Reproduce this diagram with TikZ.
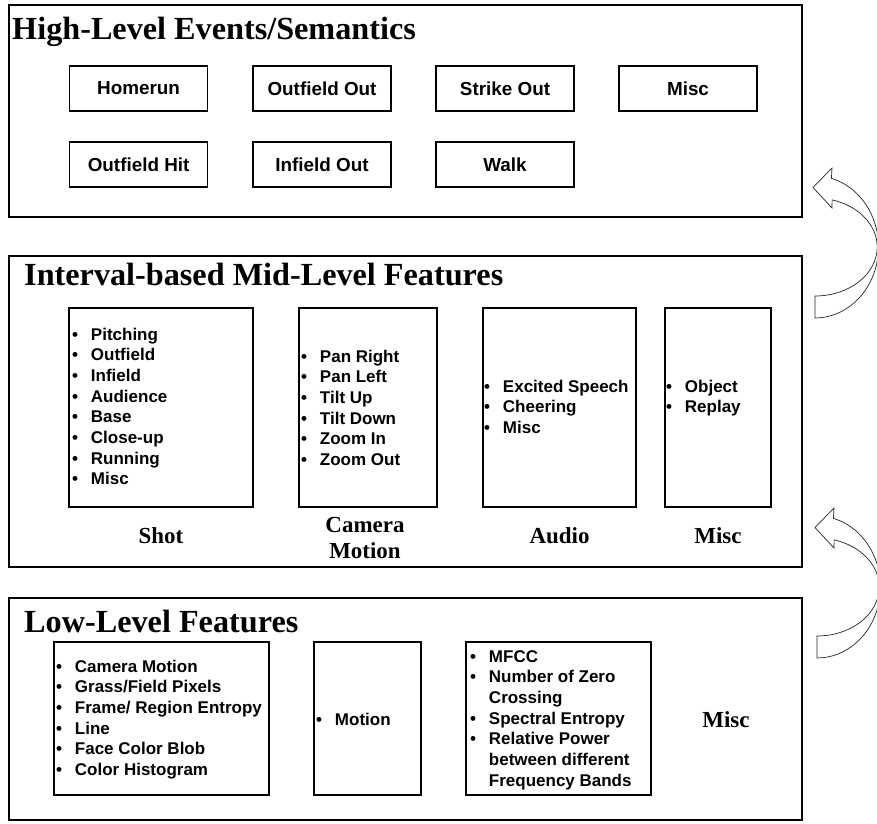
\documentclass[tikz,border=0pt]{standalone}
\usepackage{fontspec}
\setmainfont{Liberation Serif}
\setsansfont{Liberation Sans}
\newcommand{\bitem}[1]{\makebox[16pt][l]{\textbullet}#1}
\newcommand{\bcont}[1]{\hspace*{16pt}#1}
\tikzset{
  layerbox/.style={draw,line width=1.5pt},
  featbox/.style={draw,line width=1.5pt},
  evbox/.style={draw,line width=1.5pt,inner sep=0,minimum width=4.14cm,minimum height=1.35cm,
    font=\fontsize{16.1}{19}\selectfont\sffamily\bfseries},
  layertitle/.style={anchor=base west,inner sep=0,font=\fontsize{27.5}{33}\selectfont\bfseries},
  featlabel/.style={inner sep=0,align=center,font=\fontsize{19.6}{22.2}\selectfont\bfseries},
  featlist/.style={anchor=base west,inner sep=0,font=\fontsize{14.5}{17.67}\selectfont\sffamily\bfseries},
  bendarrow/.style={draw=black!85,line width=0.6pt,fill=white,line join=miter}
}
\begin{document}
\begin{tikzpicture}[x=0.03cm,y=-0.03cm]
\useasboundingbox (0,0) rectangle (877,824);
% three layers
\draw[layerbox] (9,5) rectangle (802,217); \draw[layerbox] (9,256) rectangle (802,567); \draw[layerbox] (9,598) rectangle (802,820);
\node[layertitle] (hightitle) at (12,40) {High-Level Events/Semantics};
\node[layertitle] (midtitle) at (24,286) {Interval-based Mid-Level Features};
\node[layertitle] (lowtitle) at (24,632) {Low-Level Features};
% high level events
\node[evbox] (homerun) at (138.6,88.5) {Homerun}; \node[evbox] (ofout) at (322,88.5) {Outfield Out};
\node[evbox] (strikeout) at (505,88.5) {Strike Out}; \node[evbox] (evmisc) at (688,88.5) {Misc};
\node[evbox] (ofhit) at (138.6,164.5) {Outfield Hit}; \node[evbox] (ifout) at (322,164.5) {Infield Out};
\node[evbox] (walk) at (505,164.5) {Walk};
% mid level features
\draw[featbox] (69,308) rectangle (253,507); \draw[featbox] (299,308) rectangle (437,507);
\draw[featbox] (483,308) rectangle (636,507); \draw[featbox] (665,308) rectangle (771,507);
\node[featlist] (shotlist) at (72,340) {\begin{tabular}[t]{@{}l@{}}\bitem{Pitching}\\\bitem{Outfield}\\\bitem{Infield}\\\bitem{Audience}\\
  \bitem{Base}\\\bitem{Close-up}\\\bitem{Running}\\\bitem{Misc}\end{tabular}};
\node[featlist] (camlist) at (301,362) {\begin{tabular}[t]{@{}l@{}}\bitem{Pan Right}\\\bitem{Pan Left}\\\bitem{Tilt Up}\\\bitem{Tilt Down}\\
  \bitem{Zoom In}\\\bitem{Zoom Out}\end{tabular}};
\node[featlist] (audiolist) at (484,392) {\begin{tabular}[t]{@{}l@{}}\bitem{Excited Speech}\\\bitem{Cheering}\\\bitem{Misc}\end{tabular}};
\node[featlist] (misclist) at (666,392) {\begin{tabular}[t]{@{}l@{}}\bitem{Object}\\\bitem{Replay}\end{tabular}};
\node[featlabel] (shotlbl) at (161,536) {Shot}; \node[featlabel] (camlbl) at (365,538) {Camera\\Motion};
\node[featlabel] (audiolbl) at (559.5,536) {Audio}; \node[featlabel] (misclbl) at (718,536) {Misc};
% low level features
\draw[featbox] (54,642) rectangle (269,795); \draw[featbox] (314,642) rectangle (421,795); \draw[featbox] (466,642) rectangle (651,795);
\node[featlist] (vislist) at (56,672) {\begin{tabular}[t]{@{}l@{}}\bitem{Camera Motion}\\\bitem{Grass/Field Pixels}\\\bitem{Frame/ Region Entropy}\\
  \bitem{Line}\\\bitem{Face Color Blob}\\\bitem{Color Histogram}\end{tabular}};
\node[featlist] (motlist) at (316,725) {\begin{tabular}[t]{@{}l@{}}\bitem{Motion}\end{tabular}};
\node[featlist] (audlist) at (470,662) {\begin{tabular}[t]{@{}l@{}}\bitem{MFCC}\\\bitem{Number of Zero}\\\bcont{Crossing}\\\bitem{Spectral Entropy}\\
  \bitem{Relative Power}\\\bcont{between different}\\\bcont{Frequency Bands}\end{tabular}};
\node[featlabel] (lowmisc) at (726,720) {Misc};
% curved arrows between layers
\begin{scope}
\clip (0,0) rectangle (877,824);
\foreach \dx/\dy in {0/0,2/340}
  \draw[bendarrow,shift={(\dx,\dy)}] (831.4,178.4) arc[start angle=-75,end angle=90,x radius=63.5,y radius=71] -- (815,296)
    arc[start angle=90,end angle=-74,x radius=62.2,y radius=49] -- (832,208) -- (813,187.5) -- (832,168) -- cycle;
\end{scope}
\end{tikzpicture}
\end{document}
